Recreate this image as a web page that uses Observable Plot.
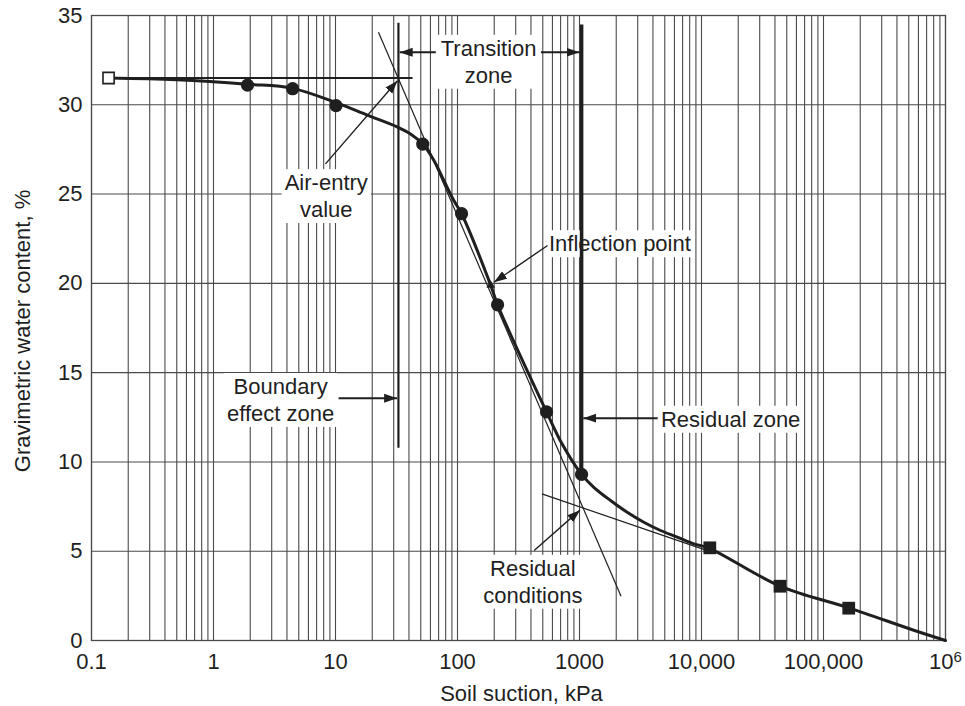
<!DOCTYPE html>
<html>
<head>
<meta charset="utf-8">
<script src="https://cdn.jsdelivr.net/npm/d3@7"></script>
<script src="https://cdn.jsdelivr.net/npm/@observablehq/plot@0.6"></script>
<style>
  html, body { margin: 0; padding: 0; background: #fff; }
  #chart svg { display: block; }
</style>
</head>
<body>
<div id="chart"></div>
<script>
// ---- Data ----
// Measured points (filled circles)
const circleX = [1.9, 4.45, 10.1, 51.9, 108, 213, 537, 1040];
const circleY = [31.1, 30.9, 29.95, 27.8, 23.9, 18.8, 12.8, 9.3];
// Measured points (filled squares)
const squareX = [11700, 44000, 161000];
const squareY = [5.19, 3.04, 1.81];
// Saturated (open square)
const openX = [0.138];
const openY = [31.5];
// Best-fit curve
const curveX = [0.138, 0.5, 1.9, 4.45, 10.1, 18.2, 32, 41.2, 51.9, 64.1, 77.3, 93.3, 108, 187, 213, 537, 721, 1040, 1310, 1796, 2460, 3366, 4613, 6323, 8650, 11700, 44000, 161000, 557000, 1000000];
const curveY = [31.5, 31.4, 31.15, 30.92, 30.12, 29.42, 28.76, 28.37, 27.8, 26.88, 25.76, 24.64, 23.9, 19.9, 18.8, 12.8, 11.0, 9.3, 8.58, 7.84, 7.18, 6.62, 6.16, 5.79, 5.41, 5.15, 3.05, 1.83, 0.56, 0];
// Construction lines
const tanSteepX = [22.5, 2190];
const tanSteepY = [34.06, 2.48];
const tanResX = [492, 11000];
const tanResY = [8.21, 5.05];
const satLineX = [0.138, 42.8];
const satLineY = [31.5, 31.5];
const aevLineX = [32.8, 32.8];
const aevLineY = [34.6, 10.8];
const resLineX = [1040, 1040];
const resLineY = [34.5, 9.3];
// Inflection point marker
const inflX = [187];
const inflY = [19.9];
// Arrows (from -> to)
const arrowX1 = [66.4, 483, 8.28, 547, 10.6, 4375, 425];
const arrowY1 = [32.94, 32.94, 26.69, 22.12, 13.57, 12.45, 5.04];
const arrowX2 = [33.6, 1000, 32.2, 199, 32.0, 1075, 1010];
const arrowY2 = [32.94, 32.94, 31.35, 20.06, 13.57, 12.45, 7.3];
const arrowW = [2, 2, 1.4, 1.4, 2, 2, 1.4];
// Annotation labels
const labelText = ["Transition\nzone", "Air-entry\nvalue", "Boundary\neffect zone", "Inflection point", "Residual zone", "Residual\nconditions"];
const labelX = [180, 8.4, 3.55, 562, 4650, 415];
const labelY = [32.47, 24.95, 13.53, 22.28, 12.45, 3.35];
const labelAlign = ["middle", "middle", "middle", "start", "start", "middle"];
// Axes
const xTicks = [0.1, 1, 10, 100, 1000, 10000, 100000, 1000000];
const xTickLabels = ["0.1", "1", "10", "100", "1000", "10,000", "100,000", "10⁶"];
const yTicks = [0, 5, 10, 15, 20, 25, 30, 35];
const gridMantissa = [1, 2, 3, 4, 5, 6, 7, 8, 9];
const gridDecades = [0.1, 1, 10, 100, 1000, 10000, 100000];
const xTitle = "Soil suction, kPa";
const yTitle = "Gravimetric water content, %";

// ---- Build tables ----
const gridX = gridDecades.flatMap(d => gridMantissa.map(m => m * d)).concat([1000000]);
const circles = circleX.map((x, i) => ({x, y: circleY[i]}));
const squares = squareX.map((x, i) => ({x, y: squareY[i]}));
const openPts = openX.map((x, i) => ({x, y: openY[i]}));
const curve = curveX.map((x, i) => ({x, y: curveY[i]}));
const seg = (xs, ys) => [{x1: xs[0], y1: ys[0], x2: xs[1], y2: ys[1]}];
const arrows = arrowX1.map((x1, i) => ({x1, y1: arrowY1[i], x2: arrowX2[i], y2: arrowY2[i], w: arrowW[i]}));
const labels = labelText.map((t, i) => ({t, x: labelX[i], y: labelY[i], a: labelAlign[i]}));
const labC = labels.filter(d => d.a === "middle");
const labS = labels.filter(d => d.a === "start");

const INK = "#1f1f1f";
const GRID = "#4a4a4a";
const FONT = "'Liberation Sans', Arial, Helvetica, sans-serif";

const arrowMarks = [1.4, 2].map(w => Plot.link(arrows.filter(d => d.w === w), {
  x1: "x1", y1: "y1", x2: "x2", y2: "y2", stroke: INK, strokeWidth: w, markerEnd: "arrow"
}));

const chart = Plot.plot({
  width: 965,
  height: 706,
  marginLeft: 91,
  marginRight: 20,
  marginTop: 15,
  marginBottom: 66,
  style: {fontFamily: FONT, fontSize: "22px", background: "#fff", color: INK},
  x: {type: "log", domain: [0.1, 1000000]},
  y: {domain: [0, 35]},
  marks: [
    Plot.ruleX(gridX, {stroke: GRID, strokeWidth: 1.1}),
    Plot.ruleY(yTicks, {stroke: GRID, strokeWidth: 1.1}),
    Plot.frame({stroke: GRID, strokeWidth: 1.3}),
    // masks behind labels (converted to white boxes after render)
    Plot.text(labC, {x: "x", y: "y", text: "t", textAnchor: "middle", lineAnchor: "middle", lineHeight: 1.22, fontSize: 22, fill: "none", className: "lblmask"}),
    Plot.text(labS, {x: "x", y: "y", text: "t", textAnchor: "start", lineAnchor: "middle", lineHeight: 1.22, fontSize: 22, fill: "none", className: "lblmask"}),
    // construction lines
    Plot.link(seg(tanSteepX, tanSteepY), {x1: "x1", y1: "y1", x2: "x2", y2: "y2", stroke: INK, strokeWidth: 1.2}),
    Plot.link(seg(tanResX, tanResY), {x1: "x1", y1: "y1", x2: "x2", y2: "y2", stroke: INK, strokeWidth: 1.2}),
    Plot.link(seg(satLineX, satLineY), {x1: "x1", y1: "y1", x2: "x2", y2: "y2", stroke: INK, strokeWidth: 2.2}),
    Plot.link(seg(aevLineX, aevLineY), {x1: "x1", y1: "y1", x2: "x2", y2: "y2", stroke: INK, strokeWidth: 2.2}),
    Plot.link(seg(resLineX, resLineY), {x1: "x1", y1: "y1", x2: "x2", y2: "y2", stroke: INK, strokeWidth: 3.6}),
    // fitted curve
    Plot.line(curve, {x: "x", y: "y", curve: "catmull-rom", stroke: INK, strokeWidth: 3}),
    ...arrowMarks,
    Plot.dot(inflX.map((x, i) => ({x, y: inflY[i]})), {x: "x", y: "y", symbol: "triangle", r: 3.2, fill: INK}),
    // data markers
    Plot.dot(openPts, {x: "x", y: "y", symbol: "square", r: 6.3, fill: "#fff", stroke: INK, strokeWidth: 1.6}),
    Plot.dot(circles, {x: "x", y: "y", symbol: "circle", r: 6.6, fill: INK}),
    Plot.dot(squares, {x: "x", y: "y", symbol: "square", r: 7.2, fill: INK}),
    // labels
    Plot.text(labC, {x: "x", y: "y", text: "t", textAnchor: "middle", lineAnchor: "middle", lineHeight: 1.22, fontSize: 22, fill: INK}),
    Plot.text(labS, {x: "x", y: "y", text: "t", textAnchor: "start", lineAnchor: "middle", lineHeight: 1.22, fontSize: 22, fill: INK}),
    // axes
    Plot.axisX(xTicks, {tickSize: 0, tickPadding: 13, fontSize: 22, fill: INK, label: null, tickFormat: d => xTickLabels[xTicks.indexOf(d)]}),
    Plot.axisY(yTicks, {tickSize: 0, tickPadding: 9, fontSize: 22, fill: INK, label: null}),
    Plot.text([xTitle], {frameAnchor: "bottom", dx: 3, dy: 53, fontSize: 22, fill: INK, textAnchor: "middle", lineAnchor: "middle"}),
    Plot.text([yTitle], {frameAnchor: "left", dx: -69, dy: 3, rotate: -90, fontSize: 22, fill: INK, textAnchor: "middle", lineAnchor: "middle"})
  ]
});
document.getElementById("chart").append(chart);

// ---- post-processing: white boxes behind labels ----
d3.select(chart).selectAll("g.lblmask text").each(function () {
  const b = this.getBBox();
  const padX = 3, padY = 1;
  d3.select(this.parentNode).append("rect")
    .attr("x", b.x - padX).attr("y", b.y - padY)
    .attr("width", b.width + 2 * padX).attr("height", b.height + 2 * padY)
    .attr("fill", "#fff")
    .attr("transform", this.getAttribute("transform"));
  d3.select(this).remove();
});

// ---- filled arrowheads ----
d3.select(chart).selectAll("marker").each(function () {
  const m = d3.select(this);
  const color = m.attr("stroke") || INK;
  m.attr("viewBox", "-13 -5 13 10")
    .attr("refX", 0).attr("refY", 0)
    .attr("markerUnits", "userSpaceOnUse")
    .attr("markerWidth", 13).attr("markerHeight", 10)
    .attr("stroke", "none").attr("fill", color);
  m.selectAll("*").remove();
  m.append("path").attr("d", "M-13,-4.5L0,0L-13,4.5Z").attr("fill", color);
});

// ---- superscript for 10^6 ----
d3.select(chart).selectAll("text").each(function () {
  if (this.textContent === "10⁶") {
    const t = d3.select(this);
    t.text("10");
    t.append("tspan").attr("dy", "-0.5em").attr("font-size", "15px").text("6");
  }
});
</script>
</body>
</html>
